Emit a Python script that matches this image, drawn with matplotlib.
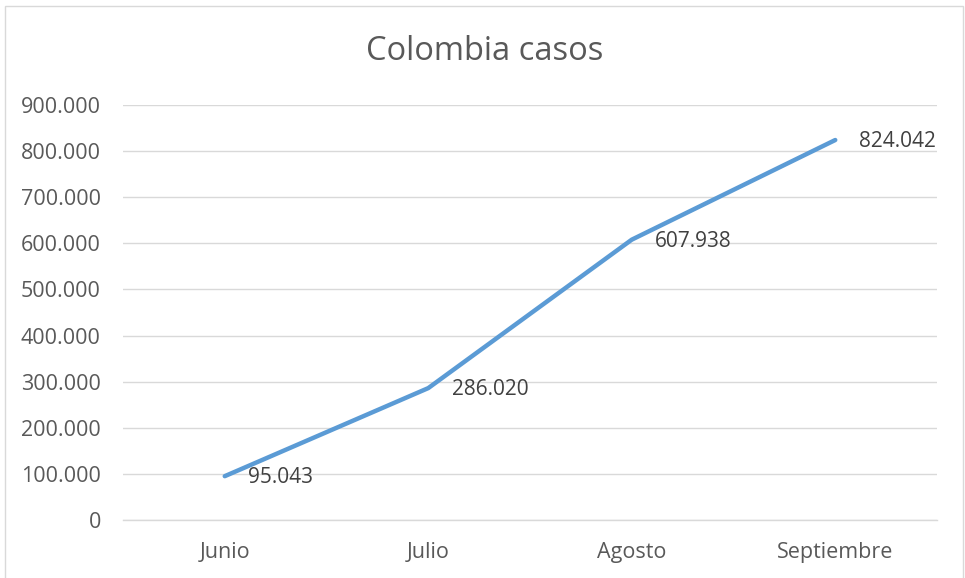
import matplotlib.pyplot as plt
from matplotlib.patches import Rectangle
from matplotlib.ticker import FuncFormatter

meses = ['Junio', 'Julio', 'Agosto', 'Septiembre']
casos = [95043, 286020, 607938, 824042]
yticks = [0, 100000, 200000, 300000, 400000, 500000, 600000, 700000, 800000, 900000]

plt.rcParams['font.family'] = ['Open Sans', 'DejaVu Sans']
gris = '#595959'

def miles(v, pos=None):
    return f'{int(v):,}'.replace(',', '.')

fig = plt.figure(figsize=(9.65, 5.78), dpi=100)
W, H = 965, 578
ax = fig.add_axes([123 / W, (H - 520) / H, (937 - 123) / W, (520 - 105) / H])

x = list(range(len(meses)))
ax.plot(x, casos, color='#5B9BD5', lw=3.2, solid_capstyle='round', zorder=3)
for xi, yi in zip(x, casos):
    ax.annotate(miles(yi), (xi, yi), xytext=(17, -1), textcoords='offset points',
                ha='left', va='center', fontsize=15, color='#404040', zorder=4)

ax.set_xlim(-0.5, 3.5)
ax.set_ylim(0, 900000)
ax.set_yticks(yticks)
ax.yaxis.set_major_formatter(FuncFormatter(miles))
ax.set_xticks(x)
ax.set_xticklabels(meses)
ax.grid(axis='y', color='#D9D9D9', lw=1.0)
ax.set_axisbelow(True)
for s in ['top', 'right', 'left']:
    ax.spines[s].set_visible(False)
ax.spines['bottom'].set_color('#D9D9D9')
ax.spines['bottom'].set_linewidth(1.0)
ax.tick_params(length=0, labelsize=15.5, labelcolor=gris)
ax.tick_params(axis='y', pad=16)
ax.tick_params(axis='x', pad=16)

fig.text(485 / W, (H - 51) / H, 'Colombia casos', ha='center', va='center',
         fontsize=23.5, color=gris)

fig.patches.append(Rectangle((5 / W, -0.05), (963 - 5) / W, (H - 6) / H + 0.05,
                             transform=fig.transFigure, fill=False,
                             edgecolor='#D9D9D9', lw=1.0))

fig.savefig('out.png', dpi=100)
